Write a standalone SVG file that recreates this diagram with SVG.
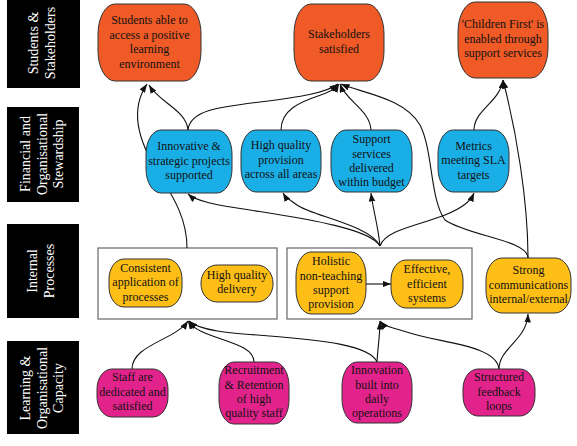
<svg xmlns="http://www.w3.org/2000/svg" width="577" height="446" viewBox="0 0 577 446">
<style>
.lab{fill:#000}
.labt{font-family:"Liberation Serif",serif;font-size:14px;fill:#fff;text-anchor:middle}
.n{stroke:#333;stroke-width:1}
.o{fill:#ef5a26}
.b{fill:#1aaee6}
.y{fill:#fdbe16}
.p{fill:#e2238b}
.t{font-family:"Liberation Serif",serif;font-size:12px;fill:#111;text-anchor:middle}
.cl{fill:#fff;stroke:#666;stroke-width:1.2}
.e{fill:none;stroke:#111;stroke-width:1.1;marker-end:url(#ah)}
</style>
<defs>
<marker id="ah" markerUnits="userSpaceOnUse" markerWidth="9" markerHeight="7" refX="8.5" refY="3.25" orient="auto"><path d="M0,0 L8.5,3.25 L0,6.5 z" fill="#111"/></marker>
</defs>
<rect width="577" height="446" fill="#fff"/>
<g id="row-labels">
<rect class="lab" x="7" y="0" width="73" height="88"/>
<text class="labt" transform="translate(38,43) rotate(-90)">Students &amp;</text>
<text class="labt" transform="translate(55,43) rotate(-90)">Stakeholders</text>
<rect class="lab" x="7" y="107" width="72" height="95"/>
<text class="labt" transform="translate(30,154) rotate(-90)">Financial and</text>
<text class="labt" transform="translate(46.5,154) rotate(-90)">Organisational</text>
<text class="labt" transform="translate(63,154) rotate(-90)">Stewardship</text>
<rect class="lab" x="7" y="224" width="72" height="94"/>
<text class="labt" transform="translate(37,271) rotate(-90)">Internal</text>
<text class="labt" transform="translate(54,271) rotate(-90)">Processes</text>
<rect class="lab" x="7" y="341" width="72" height="93"/>
<text class="labt" transform="translate(30,388) rotate(-90)">Learning &amp;</text>
<text class="labt" transform="translate(46.5,388) rotate(-90)">Organisational</text>
<text class="labt" transform="translate(63,388) rotate(-90)">Capacity</text>
</g>
<g id="cluster1"><rect class="cl" x="98" y="248" width="179" height="71"/></g>
<g id="cluster2"><rect class="cl" x="287" y="248" width="185" height="71"/></g>
<g id="connectors">
<path class="e" d="M187,248 C187,220 175,200 160,175 C140,145 128,112 147,84"/>
<path class="e" d="M188,130 C186,110 160,103 149,85"/>
<path class="e" d="M188,130 C190,110 220,107 260,102 C300,97 326,93 338,84"/>
<path class="e" d="M281,130 C281,110 300,102 318,96 C330,92 336,89 339,84"/>
<path class="e" d="M371,130 C370,110 346,101 340,84"/>
<path class="e" d="M528,258 C528,240 468,236 445,220 C430,200 433,150 420,125 C405,98 362,93 341,84"/>
<path class="e" d="M528,258 C528,200 516,130 503,80"/>
<path class="e" d="M474,130 C474,110 500,102 503,80"/>
<path class="e" d="M380,246 C370,228 300,218 250,210 C215,205 196,201 188,194"/>
<path class="e" d="M380,246 C370,225 312,216 297,205 C290,200 286,198 283,193"/>
<path class="e" d="M380,246 C378,225 373,210 371,193"/>
<path class="e" d="M380,246 C385,230 420,225 445,215 C462,208 470,202 474,193"/>
<path class="e" d="M366,284 L391,284"/>
<path class="e" d="M132,369 C132,345 175,340 188,321"/>
<path class="e" d="M254,362 C254,340 200,340 188,321"/>
<path class="e" d="M377,362 C370,345 320,340 270,336 C230,333 200,331 189,321"/>
<path class="e" d="M377,362 C378,345 380,335 380,321"/>
<path class="e" d="M499,369 C497,345 440,343 410,333 C395,328 385,327 380,321"/>
<path class="e" d="M499,369 C499,348 527,340 528,314"/>
</g>
<g id="students">
<rect class="n o" x="98" y="4" width="103" height="77" rx="17" ry="30"/>
<text class="t" x="149.5" y="24">Students able to</text>
<text class="t" x="149.5" y="38.5">access a positive</text>
<text class="t" x="149.5" y="53">learning</text>
<text class="t" x="149.5" y="67.5">environment</text>
</g>
<g id="stakeholders">
<rect class="n o" x="294" y="4" width="90" height="77" rx="17" ry="30"/>
<text class="t" x="339" y="38">Stakeholders</text>
<text class="t" x="339" y="53">satisfied</text>
</g>
<g id="children-first">
<rect class="n o" x="458" y="2" width="90" height="76" rx="17" ry="30"/>
<text class="t" x="503" y="28">'Children First' is</text>
<text class="t" x="503" y="42.5">enabled through</text>
<text class="t" x="503" y="57">support services</text>
</g>
<g id="innovative">
<rect class="n b" x="146" y="130" width="86" height="63" rx="15" ry="24"/>
<text class="t" x="189" y="150">Innovative &amp;</text>
<text class="t" x="189" y="164.5">strategic projects</text>
<text class="t" x="189" y="179">supported</text>
</g>
<g id="high-quality-provision">
<rect class="n b" x="241" y="130" width="80" height="62" rx="15" ry="24"/>
<text class="t" x="281" y="149">High quality</text>
<text class="t" x="281" y="163.5">provision</text>
<text class="t" x="281" y="178">across all areas</text>
</g>
<g id="support-services">
<rect class="n b" x="331" y="130" width="81" height="62" rx="15" ry="24"/>
<text class="t" x="371.5" y="143">Support</text>
<text class="t" x="371.5" y="157.5">services</text>
<text class="t" x="371.5" y="172">delivered</text>
<text class="t" x="371.5" y="186">within budget</text>
</g>
<g id="metrics">
<rect class="n b" x="438" y="130" width="71" height="62" rx="15" ry="24"/>
<text class="t" x="473.5" y="150">Metrics</text>
<text class="t" x="473.5" y="164">meeting SLA</text>
<text class="t" x="473.5" y="178.5">targets</text>
</g>
<g id="consistent">
<rect class="n y" x="109" y="259" width="73" height="48" rx="15" ry="20"/>
<text class="t" x="145.5" y="272">Consistent</text>
<text class="t" x="145.5" y="286">application of</text>
<text class="t" x="145.5" y="300.5">processes</text>
</g>
<g id="high-quality-delivery">
<rect class="n y" x="201" y="265" width="72" height="37" rx="16" ry="18"/>
<text class="t" x="237" y="279">High quality</text>
<text class="t" x="237" y="293">delivery</text>
</g>
<g id="holistic">
<rect class="n y" x="296" y="252" width="70" height="62" rx="15" ry="24"/>
<text class="t" x="331" y="265">Holistic</text>
<text class="t" x="331" y="279.5">non-teaching</text>
<text class="t" x="331" y="294">support</text>
<text class="t" x="331" y="308">provision</text>
</g>
<g id="effective">
<rect class="n y" x="391" y="260" width="72" height="48" rx="15" ry="20"/>
<text class="t" x="427" y="273">Effective,</text>
<text class="t" x="427" y="287.5">efficient</text>
<text class="t" x="427" y="302">systems</text>
</g>
<g id="strong-communications">
<rect class="n y" x="486" y="258" width="85" height="55" rx="16" ry="22"/>
<text class="t" x="528.5" y="274">Strong</text>
<text class="t" x="528.5" y="288.5">communications</text>
<text class="t" x="528.5" y="303">internal/external</text>
</g>
<g id="staff">
<rect class="n p" x="97" y="369" width="71" height="48" rx="15" ry="20"/>
<text class="t" x="132.5" y="381">Staff are</text>
<text class="t" x="132.5" y="396">dedicated and</text>
<text class="t" x="132.5" y="410">satisfied</text>
</g>
<g id="recruitment">
<rect class="n p" x="219" y="362" width="70" height="62" rx="15" ry="24"/>
<text class="t" x="254" y="374">Recruitment</text>
<text class="t" x="254" y="388.5">&amp; Retention</text>
<text class="t" x="254" y="403">of high</text>
<text class="t" x="254" y="417">quality staff</text>
</g>
<g id="innovation">
<rect class="n p" x="342" y="362" width="70" height="61" rx="15" ry="24"/>
<text class="t" x="377" y="374">Innovation</text>
<text class="t" x="377" y="388.5">built into</text>
<text class="t" x="377" y="403">daily</text>
<text class="t" x="377" y="417">operations</text>
</g>
<g id="structured">
<rect class="n p" x="463" y="369" width="72" height="47" rx="15" ry="20"/>
<text class="t" x="499" y="381">Structured</text>
<text class="t" x="499" y="396">feedback</text>
<text class="t" x="499" y="410">loops</text>
</g>
</svg>
